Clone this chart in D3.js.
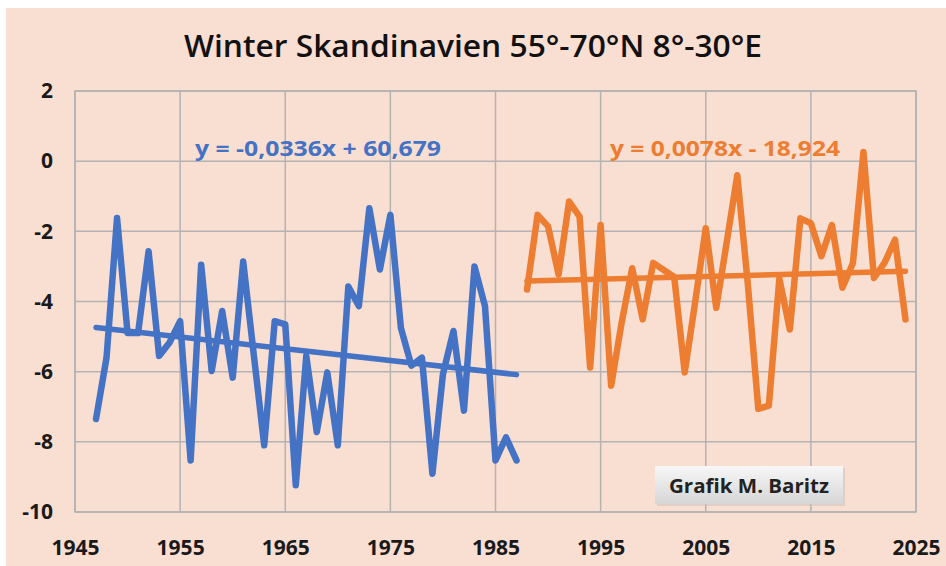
<!DOCTYPE html>
<html><head><meta charset="utf-8">
<script src="https://cdn.jsdelivr.net/npm/d3@7"></script>
<style>body{margin:0;background:#fff;} svg{display:block;}</style>
</head><body>
<svg id="c" width="946" height="566"></svg>
<script>
const title = "Winter Skandinavien 55°-70°N 8°-30°E";
const yearsA = d3.range(1947, 1988);
const valuesA = [-7.35,-5.6,-1.62,-4.9,-4.9,-2.57,-5.55,-5.17,-4.56,-8.53,
  -2.95,-5.98,-4.27,-6.17,-2.86,-5.5,-8.1,-4.56,-4.65,-9.24,
  -5.55,-7.72,-6.02,-8.1,-3.57,-4.13,-1.34,-3.09,-1.53,-4.75,
  -5.83,-5.6,-8.91,-6.07,-4.84,-7.11,-3.0,-4.13,-8.53,-7.87,-8.53];
const yearsB = d3.range(1988, 2025);
const valuesB = [-3.66,-1.53,-1.86,-3.23,-1.15,-1.58,-5.88,-1.82,-6.4,-4.6,
  -3.05,-4.51,-2.9,-3.1,-3.3,-6.02,-4.0,-1.91,-4.18,-2.3,
  -0.4,-3.5,-7.06,-6.97,-3.35,-4.8,-1.63,-1.77,-2.71,-1.82,
  -3.61,-2.9,0.26,-3.33,-2.9,-2.24,-4.51];
const trendA = {slope: -0.0336, intercept: 60.679, label: "y = -0,0336x + 60,679"};
const trendB = {slope: 0.0078, intercept: -18.924, label: "y = 0,0078x - 18,924"};
const xTicks = [1945,1955,1965,1975,1985,1995,2005,2015,2025];
const yTicks = [2,0,-2,-4,-6,-8,-10];
const credit = "Grafik M. Baritz";

const svg = d3.select("#c");
const W = 946, H = 566;
const m = {l:75, r:916, t:91, b:512};
const font = "'Open Sans', 'Liberation Sans', sans-serif";
const blue = "#4472C4", orange = "#ED7D31", bg = "#F9DED2", grid = "#B3B3B3";

svg.append("rect").attr("x",6).attr("y",8).attr("width",W-6).attr("height",H-8).attr("fill",bg);

const x = d3.scaleLinear().domain([1945,2025]).range([m.l,m.r]);
const y = d3.scaleLinear().domain([-10,2]).range([m.b,m.t]);

// grid
svg.append("g").selectAll("line").data(xTicks).join("line")
  .attr("x1",d=>x(d)).attr("x2",d=>x(d)).attr("y1",m.t).attr("y2",m.b)
  .attr("stroke",grid).attr("stroke-width",1.5);
svg.append("g").selectAll("line").data(yTicks).join("line")
  .attr("x1",m.l).attr("x2",m.r).attr("y1",d=>y(d)).attr("y2",d=>y(d))
  .attr("stroke",grid).attr("stroke-width",1.5);
svg.append("rect").attr("x",m.l).attr("y",m.t).attr("width",m.r-m.l).attr("height",m.b-m.t)
  .attr("fill","none").attr("stroke",grid).attr("stroke-width",1.5);

// axes labels via d3 axes
const xAxis = svg.append("g").attr("transform",`translate(0,${m.b})`)
  .call(d3.axisBottom(x).tickValues(xTicks).tickFormat(d=>String(d)).tickSize(0).tickPadding(28));
xAxis.select(".domain").remove();
xAxis.selectAll("text").attr("font-family",font).attr("font-weight","bold").attr("font-size",21).attr("fill","#1a1a1a");
const yAxis = svg.append("g").attr("transform",`translate(${m.l},0)`)
  .call(d3.axisLeft(y).tickValues(yTicks).tickFormat(d=>String(d)).tickSize(0).tickPadding(22));
yAxis.select(".domain").remove();
yAxis.selectAll("text").attr("font-family",font).attr("font-weight","bold").attr("font-size",21).attr("fill","#1a1a1a");

// lines
const line = d3.line().x(d=>x(d[0])).y(d=>y(d[1]));
svg.append("path").datum(yearsA.map((t,i)=>[t,valuesA[i]])).attr("d",line)
  .attr("fill","none").attr("stroke",blue).attr("stroke-width",6.5).attr("stroke-linejoin","round").attr("stroke-linecap","round");
svg.append("path").datum(yearsB.map((t,i)=>[t,valuesB[i]])).attr("d",line)
  .attr("fill","none").attr("stroke",orange).attr("stroke-width",6.5).attr("stroke-linejoin","round").attr("stroke-linecap","round");

function trend(tr, years, col){
  const a = years[0], b = years[years.length-1];
  svg.append("path").datum([[a, tr.slope*a+tr.intercept],[b, tr.slope*b+tr.intercept]]).attr("d",line)
    .attr("fill","none").attr("stroke",col).attr("stroke-width",5.5).attr("stroke-linecap","round");
}
trend(trendA, yearsA, blue);
trend(trendB, yearsB, orange);

// equations
svg.append("text").attr("x",318).attr("y",156).attr("text-anchor","middle")
  .attr("font-family",font).attr("font-weight","bold").attr("font-size",21).attr("fill",blue)
  .attr("textLength",246).attr("lengthAdjust","spacingAndGlyphs").text(trendA.label);
svg.append("text").attr("x",725).attr("y",156).attr("text-anchor","middle")
  .attr("font-family",font).attr("font-weight","bold").attr("font-size",21).attr("fill",orange)
  .attr("textLength",230).attr("lengthAdjust","spacingAndGlyphs").text(trendB.label);

// title
svg.append("text").attr("x",473).attr("y",57).attr("text-anchor","middle")
  .attr("font-family",font).attr("font-weight",600).attr("font-size",30).attr("fill","#111")
  .attr("textLength",578).attr("lengthAdjust","spacingAndGlyphs").text(title);

// credit box
const defs = svg.append("defs");
const gr = defs.append("linearGradient").attr("id","bx").attr("x1",0).attr("x2",0).attr("y1",0).attr("y2",1);
gr.append("stop").attr("offset","0%").attr("stop-color","#f7f7f7");
gr.append("stop").attr("offset","100%").attr("stop-color","#d6d6d6");
svg.append("rect").attr("x",657).attr("y",468).attr("width",188).attr("height",38).attr("fill","#c8c0bc").attr("opacity",0.5);
svg.append("rect").attr("x",655).attr("y",466).attr("width",188).attr("height",38).attr("fill","url(#bx)");
svg.append("text").attr("x",749).attr("y",493).attr("text-anchor","middle")
  .attr("font-family",font).attr("font-weight","bold").attr("font-size",19).attr("fill","#222")
  .attr("textLength",160).attr("lengthAdjust","spacingAndGlyphs").text(credit);
</script>
</body></html>
